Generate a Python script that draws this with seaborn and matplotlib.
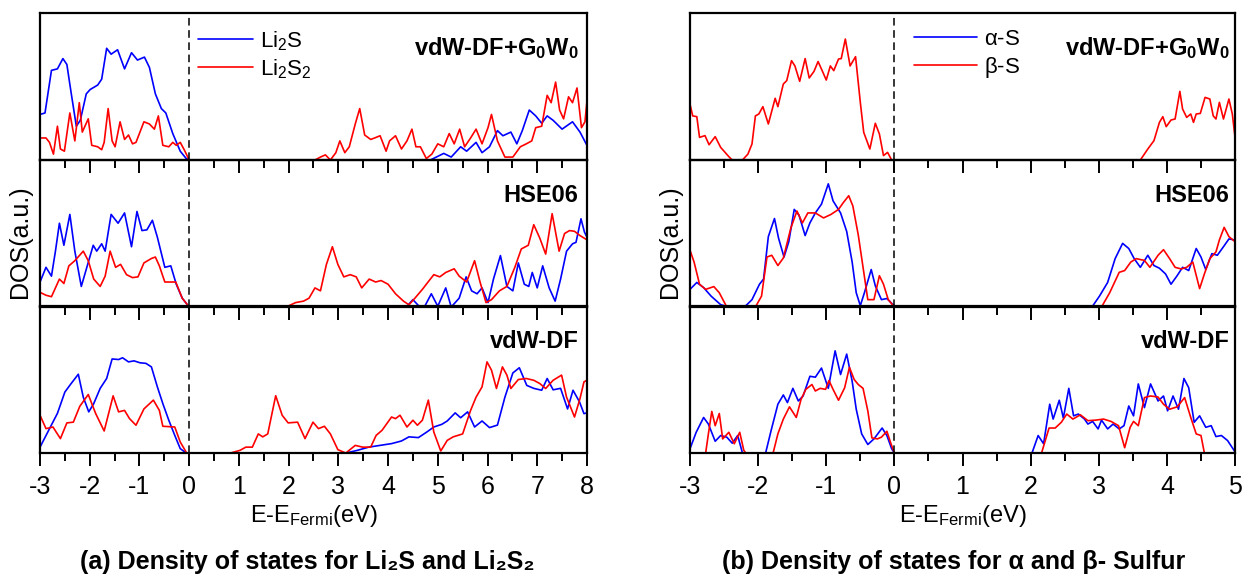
import matplotlib
matplotlib.use('Agg')
import matplotlib.pyplot as plt
from matplotlib.ticker import MultipleLocator
import seaborn as sns

# DOS values in arbitrary units (0 = bottom, 100 = top of each panel)
# (a) Li2S / Li2S2
li2s_gw = [(-3.00, 31), (-2.90, 32), (-2.77, 61), (-2.65, 62), (-2.54, 69), (-2.46, 65), (-2.38, 47),
           (-2.27, 23), (-2.19, 27), (-2.07, 45), (-1.99, 48), (-1.84, 51), (-1.76, 55), (-1.66, 76),
           (-1.57, 72), (-1.44, 75), (-1.30, 62), (-1.16, 73), (-1.04, 68), (-0.90, 70), (-0.80, 63),
           (-0.68, 45), (-0.56, 35), (-0.47, 32), (-0.33, 18), (-0.18, 6), (-0.06, 1), (0.00, 0),
           (4.85, 0), (5.12, 4.5), (5.27, 2), (5.46, 9), (5.58, 6), (5.77, 12), (5.89, 5), (6.04, 9),
           (6.20, 20), (6.31, 16.5), (6.47, 19), (6.59, 11), (6.70, 20), (6.84, 34), (6.97, 30),
           (7.09, 25), (7.20, 30), (7.32, 27), (7.50, 21), (7.71, 26), (7.86, 19), (8.00, 10)]
li2s2_gw = [(-3.00, 15), (-2.88, 15), (-2.81, 12), (-2.73, 4), (-2.65, 23), (-2.59, 7.5), (-2.51, 6),
            (-2.40, 32), (-2.30, 13), (-2.21, 39), (-2.15, 19), (-2.03, 28), (-1.96, 10), (-1.84, 9),
            (-1.76, 7), (-1.71, 12), (-1.63, 35), (-1.55, 13), (-1.49, 9), (-1.39, 26), (-1.30, 14),
            (-1.22, 17), (-1.14, 11), (-1.07, 12), (-0.91, 26), (-0.80, 24.5), (-0.70, 21), (-0.62, 30),
            (-0.53, 10), (-0.41, 9), (-0.33, 12), (-0.26, 10), (-0.18, 12), (-0.10, 7), (0.00, 0),
            (2.53, 0), (2.64, 2), (2.74, 3.5), (2.84, 0), (2.95, 5), (3.03, 13), (3.13, 5), (3.22, 9),
            (3.34, 24.5), (3.43, 35), (3.53, 17), (3.65, 14), (3.73, 15), (3.84, 16.5), (3.96, 6),
            (4.03, 13), (4.15, 16.5), (4.27, 7.5), (4.38, 13), (4.48, 21), (4.56, 9), (4.65, 9),
            (4.77, 1), (4.88, 4), (5.00, 11), (5.12, 9), (5.23, 18), (5.33, 11), (5.44, 21), (5.54, 9),
            (5.66, 15), (5.77, 21), (5.89, 11), (6.01, 22), (6.08, 31), (6.20, 13), (6.35, 2), (6.51, 2),
            (6.66, 9), (6.78, 11), (6.89, 13), (6.97, 22), (7.09, 23), (7.20, 44), (7.28, 39), (7.37, 53),
            (7.45, 34), (7.53, 28), (7.63, 43), (7.71, 39), (7.80, 49), (7.89, 22), (7.96, 26), (8.00, 40)]
li2s_hse = [(-3.00, 17), (-2.88, 27), (-2.77, 21), (-2.69, 38), (-2.61, 57), (-2.52, 42), (-2.40, 63),
            (-2.30, 38), (-2.17, 14), (-2.05, 28), (-1.93, 42), (-1.86, 38), (-1.76, 43), (-1.69, 38),
            (-1.57, 63), (-1.43, 57), (-1.30, 64), (-1.16, 41), (-1.05, 65), (-0.95, 52), (-0.85, 52.5),
            (-0.74, 59), (-0.64, 47.5), (-0.49, 27), (-0.37, 28), (-0.26, 15.5), (-0.14, 6), (0.00, 0),
            (4.38, 0.5), (4.50, 5), (4.61, 1), (4.73, 0), (4.87, 9), (5.00, 0.5), (5.16, 13), (5.27, 0),
            (5.43, 6), (5.57, 20.5), (5.68, 11), (5.79, 9), (5.89, 13), (6.01, 3), (6.12, 19), (6.26, 35),
            (6.39, 14), (6.51, 11), (6.62, 30), (6.74, 15.5), (6.83, 14), (6.90, 23.5), (7.00, 13),
            (7.11, 28), (7.24, 13), (7.36, 4), (7.47, 19), (7.59, 38), (7.71, 43), (7.78, 44), (7.88, 60),
            (7.95, 51), (8.00, 47.5)]
li2s2_hse = [(-3.00, 10), (-2.88, 8), (-2.77, 7), (-2.61, 19), (-2.52, 16), (-2.42, 28), (-2.30, 31.5),
             (-2.13, 38), (-2.03, 31.5), (-1.92, 19), (-1.79, 14), (-1.69, 21), (-1.59, 38), (-1.48, 27),
             (-1.38, 29), (-1.26, 22), (-1.14, 20), (-1.03, 20.5), (-0.91, 30), (-0.76, 33), (-0.68, 34),
             (-0.60, 28), (-0.49, 17), (-0.27, 17), (-0.14, 6), (0.00, 0),
             (1.95, 0), (2.14, 3), (2.30, 4), (2.41, 6), (2.53, 13), (2.64, 11), (2.76, 29), (2.88, 41),
             (2.99, 29), (3.11, 20.5), (3.24, 22), (3.36, 20.5), (3.47, 13), (3.62, 19), (3.75, 17),
             (3.86, 18), (4.00, 15.5), (4.15, 9), (4.31, 4), (4.42, 1.5), (4.54, 6), (4.69, 12), (4.85, 19),
             (4.92, 22), (5.04, 20.5), (5.16, 23.5), (5.33, 26), (5.43, 21), (5.58, 17), (5.74, 31.5),
             (5.85, 17), (5.97, 3), (6.08, 5), (6.24, 11), (6.39, 14), (6.55, 27), (6.68, 39.5), (6.82, 42),
             (6.93, 56), (7.05, 47), (7.17, 36), (7.30, 63.5), (7.44, 38), (7.55, 50), (7.65, 52),
             (7.75, 51.5), (7.86, 48.6), (8.00, 45.7)]
li2s_vdw = [(-3.00, 4), (-2.81, 16.5), (-2.65, 27), (-2.50, 41.5), (-2.38, 47), (-2.23, 53.6), (-2.13, 38),
            (-2.02, 28), (-1.92, 33.6), (-1.79, 44), (-1.66, 50.7), (-1.55, 64), (-1.42, 63.6), (-1.34, 64.8),
            (-1.22, 62), (-1.11, 62.7), (-0.99, 61.4), (-0.87, 61), (-0.76, 58.6), (-0.64, 45), (-0.53, 33.6),
            (-0.41, 22.3), (-0.29, 12), (-0.18, 3), (-0.06, 0), (0.00, 0),
            (3.15, 0), (3.38, 1.8), (3.61, 4), (3.84, 5.2), (4.07, 6.4), (4.27, 8.2), (4.42, 11), (4.61, 10.5),
            (4.78, 14.3), (4.92, 17.7), (5.08, 19.5), (5.19, 21.8), (5.35, 27.3), (5.46, 24), (5.60, 28),
            (5.74, 17.7), (5.89, 21.8), (6.04, 17.3), (6.20, 19), (6.35, 38), (6.51, 54.5), (6.64, 58),
            (6.79, 46), (6.93, 44), (7.09, 42.7), (7.20, 50.7), (7.32, 43), (7.47, 44), (7.61, 30),
            (7.72, 42.7), (7.85, 34.8), (7.94, 26.8), (8.00, 27.3)]
li2s2_vdw = [(-3.00, 25.7), (-2.88, 16.6), (-2.74, 17.7), (-2.59, 9.8), (-2.46, 20.5), (-2.33, 21),
             (-2.20, 31.8), (-2.03, 39.8), (-1.88, 26.8), (-1.71, 15), (-1.53, 38.9), (-1.42, 28), (-1.30, 29),
             (-1.20, 23.4), (-1.07, 18.9), (-0.91, 30), (-0.72, 36), (-0.60, 29), (-0.53, 18.2), (-0.29, 17.7),
             (-0.18, 7.5), (-0.05, 0), (0.00, 0),
             (0.83, 0), (1.02, 1.8), (1.14, 4), (1.27, 4), (1.39, 13), (1.48, 11), (1.58, 13), (1.74, 39),
             (1.87, 25.7), (1.99, 20.5), (2.18, 21), (2.33, 9.8), (2.49, 21), (2.60, 16.6), (2.72, 18.2),
             (2.84, 13), (2.99, 2.3), (3.15, 0), (3.34, 5.2), (3.49, 4), (3.65, 4), (3.76, 12), (3.88, 15.5),
             (4.07, 24.5), (4.15, 23.4), (4.24, 25.7), (4.38, 17.7), (4.50, 22.3), (4.59, 18.9), (4.69, 22.3),
             (4.81, 36), (4.92, 14.3), (5.06, 1.4), (5.19, 8.6), (5.31, 11), (5.50, 13), (5.66, 29), (5.77, 38),
             (5.89, 45), (5.99, 62), (6.08, 56.4), (6.18, 43.9), (6.30, 58.6), (6.39, 53), (6.47, 43.9),
             (6.62, 50), (6.78, 50.7), (6.93, 49.5), (7.05, 47.3), (7.17, 43.9), (7.32, 49.5), (7.49, 53),
             (7.59, 38), (7.75, 24.5), (7.86, 37), (7.94, 48.4), (8.00, 49.5)]

# (b) alpha / beta sulfur
beta_gw = [(-3.00, 38), (-2.96, 30), (-2.90, 29.5), (-2.86, 15.4), (-2.78, 16.6), (-2.72, 10.4), (-2.63, 15.9),
           (-2.55, 8.6), (-2.43, 2.3), (-2.38, 0), (-2.23, 0), (-2.15, 4), (-2.09, 10.9), (-2.04, 30),
           (-1.99, 31.3), (-1.93, 36.3), (-1.85, 24.5), (-1.75, 42), (-1.71, 36.3), (-1.63, 51.7), (-1.58, 54),
           (-1.51, 67.6), (-1.46, 64), (-1.39, 53.5), (-1.31, 69), (-1.25, 55.8), (-1.18, 60.3), (-1.12, 67),
           (-1.06, 60.8), (-1.00, 54.4), (-0.94, 64), (-0.89, 60.8), (-0.82, 68.7), (-0.78, 69), (-0.72, 82.3),
           (-0.65, 64), (-0.57, 70.3), (-0.50, 39.2), (-0.45, 18.8), (-0.36, 7.5), (-0.28, 25), (-0.22, 17.7),
           (-0.16, 3), (-0.10, 5.2), (-0.04, 0), (0.00, 0),
           (3.61, 0), (3.72, 7.5), (3.81, 13.2), (3.89, 25.6), (3.94, 29.5), (3.99, 22.7), (4.06, 27.2),
           (4.12, 27.9), (4.19, 46.7), (4.23, 34.7), (4.29, 29), (4.35, 31.3), (4.39, 25.6), (4.43, 31.3),
           (4.49, 31.7), (4.56, 42.6), (4.63, 41.5), (4.68, 30), (4.72, 27.9), (4.77, 39.2), (4.83, 27.9),
           (4.91, 41.5), (4.96, 31.3), (5.00, 15.4)]
alpha_gw = []  # no alpha-S curve is visible in the G0W0 panel, only its legend entry
alpha_hse = [(-3.00, 12), (-2.90, 16.7), (-2.80, 13.2), (-2.69, 7.4), (-2.55, 1.6), (-2.43, 0), (-2.18, 0.9),
             (-2.09, 5), (-1.98, 15.5), (-1.92, 19), (-1.85, 47.9), (-1.76, 60.2), (-1.70, 46.8), (-1.62, 34),
             (-1.55, 44.4), (-1.47, 66.4), (-1.40, 62.5), (-1.31, 48.6), (-1.24, 57.2), (-1.16, 64), (-1.07, 70),
             (-0.97, 83.8), (-0.90, 72.2), (-0.79, 64), (-0.70, 51.4), (-0.62, 30.6), (-0.56, 9.7), (-0.50, 0.9),
             (-0.44, 9.7), (-0.34, 25.5), (-0.28, 14.4), (-0.19, 5), (-0.11, 5.8), (-0.02, 1.6), (0.02, 0),
             (2.90, 0), (3.01, 7.4), (3.13, 16.7), (3.24, 32.9), (3.35, 43.3), (3.44, 39.8), (3.52, 32.9),
             (3.61, 27), (3.72, 35.2), (3.81, 28.2), (3.89, 26.4), (3.98, 22.5), (4.06, 15.5), (4.15, 21.3),
             (4.23, 27), (4.32, 24.8), (4.43, 39.8), (4.50, 34), (4.57, 25.5), (4.66, 36.3), (4.74, 35.2),
             (4.83, 41), (4.91, 46.3), (5.00, 45.6)]
beta_hse = [(-3.00, 38.7), (-2.94, 30.6), (-2.86, 15.5), (-2.77, 12), (-2.65, 13.9), (-2.57, 9.7), (-2.46, 0),
            (-2.04, 0), (-1.95, 7.4), (-1.87, 34), (-1.80, 35.2), (-1.71, 28.2), (-1.63, 33.3), (-1.52, 53.7),
            (-1.43, 65.3), (-1.35, 57.2), (-1.27, 64), (-1.16, 64), (-1.04, 60.6), (-0.93, 63), (-0.82, 66.4),
            (-0.75, 71), (-0.67, 75.7), (-0.61, 68.8), (-0.53, 49), (-0.46, 27), (-0.39, 5), (-0.30, 5),
            (-0.22, 21.3), (-0.16, 15.5), (-0.09, 5), (0.00, 0),
            (3.04, 0), (3.16, 9.7), (3.30, 23.6), (3.38, 24.8), (3.47, 30.6), (3.55, 32.9), (3.67, 31.7),
            (3.75, 27), (3.87, 35.2), (3.95, 39), (4.04, 32.9), (4.12, 27), (4.21, 25.9), (4.29, 27),
            (4.38, 30.6), (4.48, 12.5), (4.55, 22.5), (4.63, 32.9), (4.72, 37.5), (4.77, 45.6), (4.84, 54.2),
            (4.91, 47.9), (5.00, 44.4)]
alpha_vdw = [(-3.00, 2.9), (-2.91, 14), (-2.80, 24.2), (-2.73, 19.7), (-2.63, 8), (-2.55, 11.9), (-2.46, 10.8),
             (-2.38, 6.7), (-2.30, 11.9), (-2.23, 0), (-1.89, 0), (-1.81, 15.2), (-1.71, 33.2), (-1.63, 39.5),
             (-1.57, 34.3), (-1.49, 44), (-1.41, 35.4), (-1.34, 38.8), (-1.24, 52.2), (-1.16, 51.6),
             (-1.07, 57.8), (-0.97, 44), (-0.87, 69.5), (-0.79, 53.4), (-0.70, 67.3), (-0.62, 48.9),
             (-0.56, 29.8), (-0.48, 13), (-0.39, 5.8), (-0.30, 9.6), (-0.18, 17), (-0.11, 11.9), (-0.04, 2.9),
             (0.00, 0),
             (2.02, 0), (2.11, 11.9), (2.19, 6.3), (2.28, 33.2), (2.33, 23.1), (2.42, 35.9), (2.48, 23.8),
             (2.56, 44), (2.63, 25.3), (2.70, 26.5), (2.79, 23.1), (2.84, 19.7), (2.91, 21.5), (2.99, 16.4),
             (3.04, 22.4), (3.13, 16.4), (3.21, 19.7), (3.30, 16.4), (3.37, 18.6), (3.44, 32), (3.51, 25.3),
             (3.58, 47), (3.67, 30.9), (3.76, 47), (3.87, 35.4), (3.95, 38.8), (4.01, 28.7), (4.09, 38.8),
             (4.17, 29.8), (4.25, 50.7), (4.32, 44.4), (4.40, 20.9), (4.48, 25.3), (4.57, 17.5), (4.65, 18.6),
             (4.72, 11.2), (4.80, 11.9), (4.89, 8.5), (4.97, 2.9), (5.00, 0.7)]
beta_vdw = [(-3.00, 0), (-2.77, 0), (-2.73, 13), (-2.68, 28.3), (-2.63, 18.6), (-2.57, 26.9), (-2.52, 9.6),
            (-2.43, 14.1), (-2.35, 6.3), (-2.27, 14.1), (-2.21, 1.8), (-2.18, 0), (-1.78, 0), (-1.71, 13),
            (-1.63, 23.1), (-1.54, 31.4), (-1.44, 24.2), (-1.37, 36.5), (-1.30, 43.3), (-1.21, 46.6),
            (-1.16, 42.2), (-1.09, 44), (-1.01, 43.3), (-0.96, 49.3), (-0.90, 43.3), (-0.82, 35.9),
            (-0.73, 44.4), (-0.66, 58.3), (-0.59, 50), (-0.53, 46.6), (-0.46, 44), (-0.39, 28.7),
            (-0.33, 10.3), (-0.25, 9.6), (-0.19, 10.8), (-0.11, 14.8), (-0.05, 6.3), (0.00, 0),
            (2.16, 0), (2.27, 17), (2.36, 17), (2.45, 20.9), (2.53, 26.5), (2.62, 23.1), (2.73, 26),
            (2.84, 22), (2.96, 22.4), (3.07, 23.1), (3.18, 21.5), (3.29, 18.6), (3.38, 3.6), (3.46, 17.5),
            (3.51, 21.5), (3.58, 18.6), (3.67, 37.7), (3.76, 38.8), (3.87, 38.1), (3.95, 33.2), (4.04, 29.8),
            (4.15, 31.4), (4.26, 37.7), (4.35, 24.2), (4.43, 13), (4.50, 11.9), (4.55, 0), (5.00, 0)]

methods = ['vdW-DF+G$_\\mathbf{0}$W$_\\mathbf{0}$', 'HSE06', 'vdW-DF']
left_series = [(li2s_gw, li2s2_gw), (li2s_hse, li2s2_hse), (li2s_vdw, li2s2_vdw)]
right_series = [(alpha_gw, beta_gw), (alpha_hse, beta_hse), (alpha_vdw, beta_vdw)]
left_labels = ['Li$_2$S', 'Li$_2$S$_2$']
right_labels = ['$\\alpha$-S', '$\\beta$-S']

sns.set_theme(style='ticks')
plt.rcParams['font.family'] = ['Liberation Sans', 'DejaVu Sans']
plt.rcParams.update({
    'mathtext.fontset': 'custom',
    'mathtext.rm': 'Liberation Sans',
    'mathtext.it': 'Liberation Sans:italic',
    'mathtext.bf': 'Liberation Sans:bold',
    'mathtext.default': 'regular',
    'axes.unicode_minus': False,
    'text.color': 'black',
    'axes.labelcolor': 'black',
    'xtick.color': 'black',
    'ytick.color': 'black',
})

BLUE, RED = '#0000ff', '#ff0000'

fig = plt.figure(figsize=(12.43, 5.76), dpi=100)


def draw_column(x0, width, series, labels, xlim, leg_x, leg_len, txt_x):
    h = 0.2552
    bottoms = [0.7222, 0.4670, 0.2135]
    axes = []
    handles = []
    for i, (s_blue, s_red) in enumerate(series):
        ax = fig.add_axes([x0, bottoms[i], width, h])
        ax.patch.set_alpha(0)
        for k, (data, col) in enumerate(((s_blue, BLUE), (s_red, RED))):
            if data:
                xs = [p[0] for p in data]
                ys = [p[1] for p in data]
                sns.lineplot(x=xs, y=ys, ax=ax, color=col, lw=1.2, sort=False,
                             estimator=None, legend=False)
            if i == 0:
                handles.append(plt.Line2D([], [], color=col, lw=1.2))
        ax.axvline(0, color='black', lw=1.1, ls=(0, (5, 3)))
        ax.set_xlim(*xlim)
        ax.set_ylim(0, 100)
        ax.set_yticks([])
        ax.xaxis.set_major_locator(MultipleLocator(1))
        ax.xaxis.set_minor_locator(MultipleLocator(0.5))
        ax.tick_params(axis='x', which='major', direction='out', length=9.5, width=1.4,
                       labelsize=18, pad=6)
        ax.tick_params(axis='x', which='minor', direction='out', length=5.8, width=1.4)
        for sp in ax.spines.values():
            sp.set_visible(True)
            sp.set_linewidth(1.6)
            sp.set_color('black')
        ax.set_ylabel('')
        ax.text(txt_x, 0.76, methods[i], transform=ax.transAxes, ha='right', va='center',
                fontsize=17, fontweight='bold')
        if i < 2:
            ax.tick_params(axis='x', labelbottom=False)
        axes.append(ax)
    axes[0].legend(handles, labels, loc='upper left', bbox_to_anchor=(leg_x, 0.89), frameon=False,
                   fontsize=16, handlelength=leg_len, handletextpad=0.3, borderpad=0,
                   borderaxespad=0, labelspacing=0.2)
    axes[2].set_xlabel('E-E$_{\\mathrm{Fermi}}$(eV)', fontsize=17, labelpad=3)
    return axes


left_axes = draw_column(0.0322, 0.4400, left_series, left_labels, (-3, 8), 0.288, 2.5, 0.985)
right_axes = draw_column(0.5551, 0.4385, right_series, right_labels, (-3, 5), 0.411, 2.85, 0.99)

fig.text(0.016, 0.58, 'DOS(a.u.)', rotation=90, ha='center', va='center', fontsize=18)
fig.text(0.539, 0.58, 'DOS(a.u.)', rotation=90, ha='center', va='center', fontsize=18)

fig.text(0.247, 0.025, '(a) Density of states for Li\u2082S and Li\u2082S\u2082', ha='center', va='center',
         fontsize=18, fontweight='bold')
fig.text(0.767, 0.025, '(b) Density of states for \u03b1 and \u03b2- Sulfur', ha='center', va='center',
         fontsize=18, fontweight='bold')

fig.savefig('out.png', dpi=100)
